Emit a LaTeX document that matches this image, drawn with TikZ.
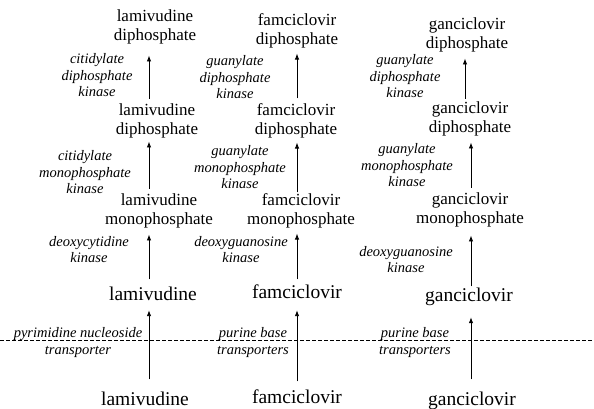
\documentclass[tikz,border=0pt]{standalone}
\usepackage{fontspec}
\setmainfont{Liberation Serif}
\usetikzlibrary{arrows.meta}
\begin{document}
\begin{tikzpicture}[x=1pt,y=-1pt,
  chem/.style={inner sep=0pt,outer sep=0pt,align=center,font=\fontsize{17}{19.5}\selectfont},
  big/.style={inner sep=0pt,outer sep=0pt,anchor=base,font=\fontsize{19.5}{22}\selectfont},
  enz/.style={inner sep=0pt,outer sep=0pt,align=center,font=\fontsize{14.5}{16.5}\selectfont\itshape},
  trans/.style={inner sep=0pt,outer sep=0pt,align=center,font=\fontsize{14.5}{17}\selectfont\itshape},
  arr/.style={line width=0.9pt,-{Latex[length=6pt,width=4.5pt]}},
  membrane/.style={line width=0.8pt,dash pattern=on 4pt off 2pt}]
\useasboundingbox (0,0) rectangle (594,409);

% arrow columns
\coordinate (c1) at (149,0);
\coordinate (c2) at (297,0);
\coordinate (c3t) at (465,0);
\coordinate (c3) at (471,0);

% membrane
\coordinate (mL) at (0,340);
\coordinate (mR) at (594,340);
\draw[membrane] (mL) -- (mR);

% ---- lamivudine column
\node[chem] (lam1) at (155,27) {lamivudine\\diphosphate};
\node[chem] (lam2) at (157,121) {lamivudine\\diphosphate};
\node[chem] (lam3) at (159,211) {lamivudine\\monophosphate};
\node[big] (lam4) at (153,300) {lamivudine};
\node[big] (lam5) at (145,405) {lamivudine};
\node[enz] (e11) at (97,75.5) {citidylate\\diphosphate\\kinase};
\node[enz] (e12) at (85,172.5) {citidylate\\monophosphate\\kinase};
\node[enz] (e13) at (89,249.3) {deoxycytidine\\kinase};
\node[trans] (t1) at (78,343) {pyrimidine nucleoside\\transporter};

\draw[arr, shorten <=5pt, shorten >=11pt] (lam2.north -| c1) -- (lam1.south -| c1);
\draw[arr, shorten <=5pt, shorten >=3pt] (lam3.north -| c1) -- (lam2.south -| c1);
\draw[arr, shorten <=7pt, shorten >=6pt] (lam4.north -| c1) -- (lam3.south -| c1);
\draw[arr, shorten <=12pt, shorten >=10pt] (lam5.north -| c1) -- (lam4.south -| c1);

% ---- famciclovir column
\node[chem] (fam1) at (297,31) {famciclovir\\diphosphate};
\node[chem] (fam2) at (296,121) {famciclovir\\diphosphate};
\node[chem] (fam3) at (301,211) {famciclovir\\monophosphate};
\node[big] (fam4) at (297,298) {famciclovir};
\node[big] (fam5) at (297,403) {famciclovir};
\node[enz] (e21) at (235,77.5) {guanylate\\diphosphate\\kinase};
\node[enz] (e22) at (240,167.5) {guanylate\\monophosphate\\kinase};
\node[enz] (e23) at (241,249.3) {deoxyguanosine\\kinase};
\node[trans] (t2) at (253,343) {purine base\\transporters};

\draw[arr, shorten <=5pt, shorten >=5pt] (fam2.north -| c2) -- (fam1.south -| c2);
\draw[arr, shorten <=1pt, shorten >=4pt] (fam3.north -| c2) -- (fam2.south -| c2);
\draw[arr, shorten <=5pt, shorten >=5pt] (fam4.north -| c2) -- (fam3.south -| c2);
\draw[arr, shorten <=8pt, shorten >=12pt] (fam5.north -| c2) -- (fam4.south -| c2);

% ---- ganciclovir column
\node[chem] (gan1) at (467,35) {ganciclovir\\diphosphate};
\node[chem] (gan2) at (470,119) {ganciclovir\\diphosphate};
\node[chem] (gan3) at (470,210) {ganciclovir\\monophosphate};
\node[big] (gan4) at (469,301) {ganciclovir};
\node[big] (gan5) at (472,405) {ganciclovir};
\node[enz] (e31) at (405,76.5) {guanylate\\diphosphate\\kinase};
\node[enz] (e32) at (407,165.5) {guanylate\\monophosphate\\kinase};
\node[enz] (e33) at (406,259.3) {deoxyguanosine\\kinase};
\node[trans] (t3) at (415,343) {purine base\\transporters};

\draw[arr, shorten <=3pt, shorten >=6pt] (gan2.north -| c3t) -- (gan1.south -| c3t);
\draw[arr, shorten <=5pt, shorten >=6pt] (gan3.north -| c3) -- (gan2.south -| c3);
\draw[arr, shorten <=1pt, shorten >=8pt] (gan4.north -| c3) -- (gan3.south -| c3);
\draw[arr, shorten <=12pt, shorten >=12pt] (gan5.north -| c3) -- (gan4.south -| c3);
\end{tikzpicture}
\end{document}
